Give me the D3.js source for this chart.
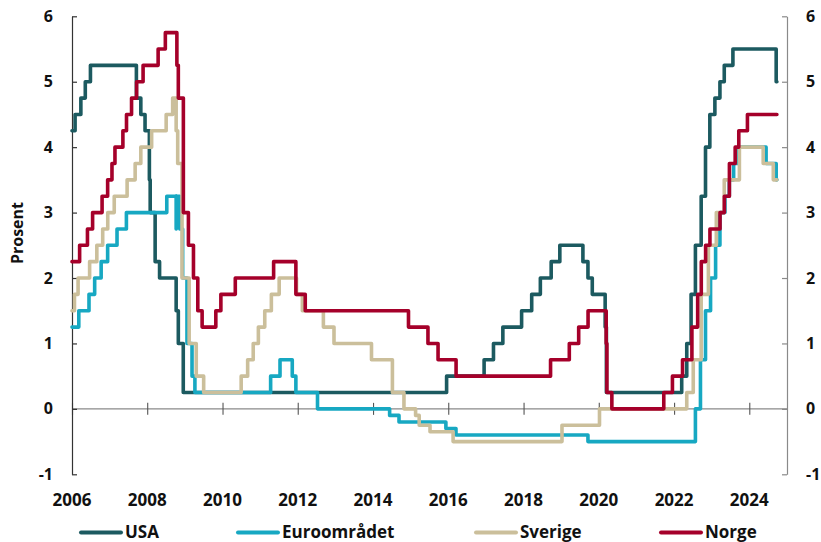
<!DOCTYPE html>
<html>
<head>
<meta charset="utf-8">
<script src="https://cdn.jsdelivr.net/npm/d3@7"></script>
<style>
  html, body { margin: 0; padding: 0; background: #fff; }
  svg { display: block; font-family: "Open Sans", "DejaVu Sans", sans-serif; font-weight: 700; }
</style>
</head>
<body>
<svg id="chart" width="821" height="542"></svg>
<script>
// ---- Data (policy rates, change points) ----
const usa = [
["2006-01-01",4.25],["2006-01-31",4.5],["2006-03-28",4.75],["2006-05-10",5.0],["2006-06-29",5.25],
["2007-09-18",4.75],["2007-10-31",4.5],["2007-12-11",4.25],["2008-01-22",3.5],["2008-01-30",3.0],
["2008-03-18",2.25],["2008-04-30",2.0],["2008-10-08",1.5],["2008-10-29",1.0],["2008-12-16",0.25],
["2015-12-16",0.5],["2016-12-14",0.75],["2017-03-15",1.0],["2017-06-14",1.25],["2017-12-13",1.5],
["2018-03-21",1.75],["2018-06-13",2.0],["2018-09-26",2.25],["2018-12-19",2.5],["2019-07-31",2.25],
["2019-09-18",2.0],["2019-10-30",1.75],["2020-03-03",1.25],["2020-03-15",0.25],["2022-03-16",0.5],
["2022-05-04",1.0],["2022-06-15",1.75],["2022-07-27",2.5],["2022-09-21",3.25],["2022-11-02",4.0],
["2022-12-14",4.5],["2023-02-01",4.75],["2023-03-22",5.0],["2023-05-03",5.25],["2023-07-26",5.5],
["2024-09-18",5.0]];

const euro = [
["2006-01-01",1.25],["2006-03-08",1.5],["2006-06-15",1.75],["2006-08-09",2.0],["2006-10-11",2.25],
["2006-12-13",2.5],["2007-03-14",2.75],["2007-06-13",3.0],["2008-07-09",3.25],["2008-10-08",2.75],
["2008-10-09",3.25],["2008-11-12",2.75],["2008-12-10",2.0],["2009-01-21",1.0],["2009-03-11",0.5],
["2009-04-08",0.25],["2011-04-13",0.5],["2011-07-13",0.75],["2011-11-09",0.5],["2011-12-14",0.25],
["2012-07-11",0.0],["2014-06-11",-0.1],["2014-09-10",-0.2],["2015-12-09",-0.3],["2016-03-16",-0.4],
["2019-09-18",-0.5],["2022-07-27",0.0],["2022-09-14",0.75],["2022-11-02",1.5],["2022-12-21",2.0],
["2023-02-08",2.5],["2023-03-22",3.0],["2023-05-10",3.25],["2023-06-21",3.5],["2023-08-02",3.75],
["2023-09-20",4.0],["2024-06-12",3.75],["2024-09-18",3.5]];

const sverige = [
["2006-01-01",1.5],["2006-01-25",1.75],["2006-03-01",2.0],["2006-06-21",2.25],["2006-08-30",2.5],
["2006-10-26",2.75],["2006-12-14",3.0],["2007-02-15",3.25],["2007-06-20",3.5],["2007-09-06",3.75],
["2007-10-31",4.0],["2008-02-13",4.25],["2008-07-03",4.5],["2008-09-04",4.75],["2008-10-08",4.25],
["2008-10-23",3.75],["2008-12-04",2.0],["2009-02-11",1.0],["2009-04-21",0.5],["2009-07-02",0.25],
["2010-07-01",0.5],["2010-09-02",0.75],["2010-10-26",1.0],["2010-12-15",1.25],["2011-02-15",1.5],
["2011-04-20",1.75],["2011-07-05",2.0],["2011-12-20",1.75],["2012-02-15",1.5],["2012-09-06",1.25],
["2012-12-18",1.0],["2013-12-17",0.75],["2014-07-08",0.25],["2014-10-28",0.0],["2015-02-18",-0.1],
["2015-03-25",-0.25],["2015-07-08",-0.35],["2016-02-17",-0.5],["2019-01-09",-0.25],["2020-01-08",0.0],
["2022-05-04",0.25],["2022-07-06",0.75],["2022-09-21",1.75],["2022-11-30",2.5],["2023-02-15",3.0],
["2023-05-03",3.5],["2023-09-27",4.0],["2024-05-15",3.75],["2024-08-21",3.5]];

const norge = [
["2006-01-01",2.25],["2006-03-16",2.5],["2006-05-31",2.75],["2006-07-20",3.0],["2006-10-20",3.25],
["2006-12-13",3.5],["2007-01-24",3.75],["2007-02-22",4.0],["2007-05-10",4.25],["2007-06-14",4.5],
["2007-08-02",4.75],["2007-09-20",5.0],["2007-11-22",5.25],["2008-04-16",5.5],["2008-06-25",5.75],
["2008-10-15",5.25],["2008-10-29",4.75],["2008-12-17",3.0],["2009-02-04",2.5],["2009-03-25",2.0],
["2009-05-06",1.5],["2009-06-17",1.25],["2009-10-28",1.5],["2009-12-16",1.75],["2010-05-05",2.0],
["2011-05-12",2.25],["2011-12-14",1.75],["2012-03-14",1.5],["2014-12-11",1.25],["2015-06-18",1.0],
["2015-09-24",0.75],["2016-03-17",0.5],["2018-09-20",0.75],["2019-03-21",1.0],["2019-06-20",1.25],
["2019-09-19",1.5],["2020-03-13",1.0],["2020-03-20",0.25],["2020-05-07",0.0],["2021-09-23",0.25],
["2021-12-16",0.5],["2022-03-24",0.75],["2022-06-23",1.25],["2022-08-18",1.75],["2022-09-22",2.25],
["2022-11-03",2.5],["2022-12-15",2.75],["2023-03-23",3.0],["2023-05-04",3.25],["2023-06-22",3.75],
["2023-08-17",4.0],["2023-09-21",4.25],["2023-12-14",4.5]];

const endDate = "2024-09-25";
const seriesNames = ["USA", "Euroområdet", "Sverige", "Norge"];
const seriesColors = ["#1c5a60", "#17a8c2", "#cbbf9b", "#a5002a"];
const xTickYears = [2006, 2008, 2010, 2012, 2014, 2016, 2018, 2020, 2022, 2024];
const yTicks = [-1, 0, 1, 2, 3, 4, 5, 6];
const yLabel = "Prosent";

// ---- Layout ----
const svg = d3.select("#chart");
const plotLeft = 72, plotRight = 787, plotTop = 16.3, plotBottom = 474.3;
const parse = d3.timeParse("%Y-%m-%d");

const x = d3.scaleTime()
  .domain([new Date(2006, 0, 1), new Date(2025, 0, 1)])
  .range([plotLeft, plotRight]);
const y = d3.scaleLinear().domain([-1, 6]).range([plotBottom, plotTop]);

// zero line with x ticks
svg.append("line")
  .attr("x1", plotLeft).attr("x2", plotRight)
  .attr("y1", y(0)).attr("y2", y(0))
  .attr("stroke", "#8a8a8a").attr("stroke-width", 1.2);

const xAxis = d3.axisBottom(x)
  .tickValues(xTickYears.map(yr => new Date(yr, 0, 1)))
  .tickSize(6).tickSizeOuter(0).tickFormat("");
const gx = svg.append("g").attr("transform", `translate(0,${y(0)})`).call(xAxis);
gx.select(".domain").remove();
gx.selectAll(".tick line").attr("y1", -6).attr("y2", 6).attr("stroke", "#555").attr("stroke-width", 1.1);

// x labels at bottom
svg.append("g").selectAll("text").data(xTickYears).join("text")
  .attr("x", d => x(new Date(d, 0, 1)))
  .attr("y", 506)
  .attr("text-anchor", "middle")
  .attr("font-size", 17)
  .attr("fill", "#111")
  .text(d => d);

// left axis
const yAxisL = d3.axisRight(y).tickValues(yTicks).tickSize(5).tickSizeOuter(0).tickFormat("");
const gl = svg.append("g").attr("transform", `translate(${plotLeft},0)`).call(yAxisL);
gl.select(".domain").attr("stroke", "#333").attr("stroke-width", 1.2);
gl.selectAll(".tick line").attr("stroke", "#333").attr("stroke-width", 1.2);

// right axis
const yAxisR = d3.axisLeft(y).tickValues(yTicks).tickSize(5).tickSizeOuter(0).tickFormat("");
const gr = svg.append("g").attr("transform", `translate(${plotRight},0)`).call(yAxisR);
gr.select(".domain").attr("stroke", "#8a8a8a").attr("stroke-width", 1.2);
gr.selectAll(".tick line").attr("stroke", "#8a8a8a").attr("stroke-width", 1.2);

// y labels
svg.append("g").selectAll("text").data(yTicks).join("text")
  .attr("x", 53).attr("y", d => y(d)).attr("dy", "0.35em")
  .attr("text-anchor", "end").attr("font-size", 16).attr("fill", "#111")
  .text(d => d);
svg.append("g").selectAll("text").data(yTicks).join("text")
  .attr("x", 806).attr("y", d => y(d)).attr("dy", "0.35em")
  .attr("text-anchor", "start").attr("font-size", 16).attr("fill", "#111")
  .text(d => d);

svg.append("text")
  .attr("transform", `translate(23,233) rotate(-90)`)
  .attr("text-anchor", "middle").attr("font-size", 16).attr("fill", "#111")
  .text(yLabel);

// lines
const line = d3.line()
  .x(d => x(d[0])).y(d => y(d[1]))
  .curve(d3.curveStepAfter);

const allSeries = [usa, euro, sverige, norge];
allSeries.forEach((s, i) => {
  const pts = s.map(d => [parse(d[0]), d[1]]);
  pts.push([parse(endDate), s[s.length - 1][1]]);
  svg.append("path")
    .attr("d", line(pts))
    .attr("fill", "none")
    .attr("stroke", seriesColors[i])
    .attr("stroke-width", 3.6)
    .attr("stroke-linejoin", "round")
    .attr("stroke-linecap", "round");
});

// legend
const legendX = [81, 238, 476, 661];
const lg = svg.append("g");
seriesNames.forEach((n, i) => {
  lg.append("line")
    .attr("x1", legendX[i]).attr("x2", legendX[i] + 40)
    .attr("y1", 532.5).attr("y2", 532.5)
    .attr("stroke", seriesColors[i]).attr("stroke-width", 4)
    .attr("stroke-linecap", "round");
  lg.append("text")
    .attr("x", legendX[i] + 44).attr("y", 538)
    .attr("font-size", 17).attr("fill", "#111")
    .text(n);
});
</script>
</body>
</html>
